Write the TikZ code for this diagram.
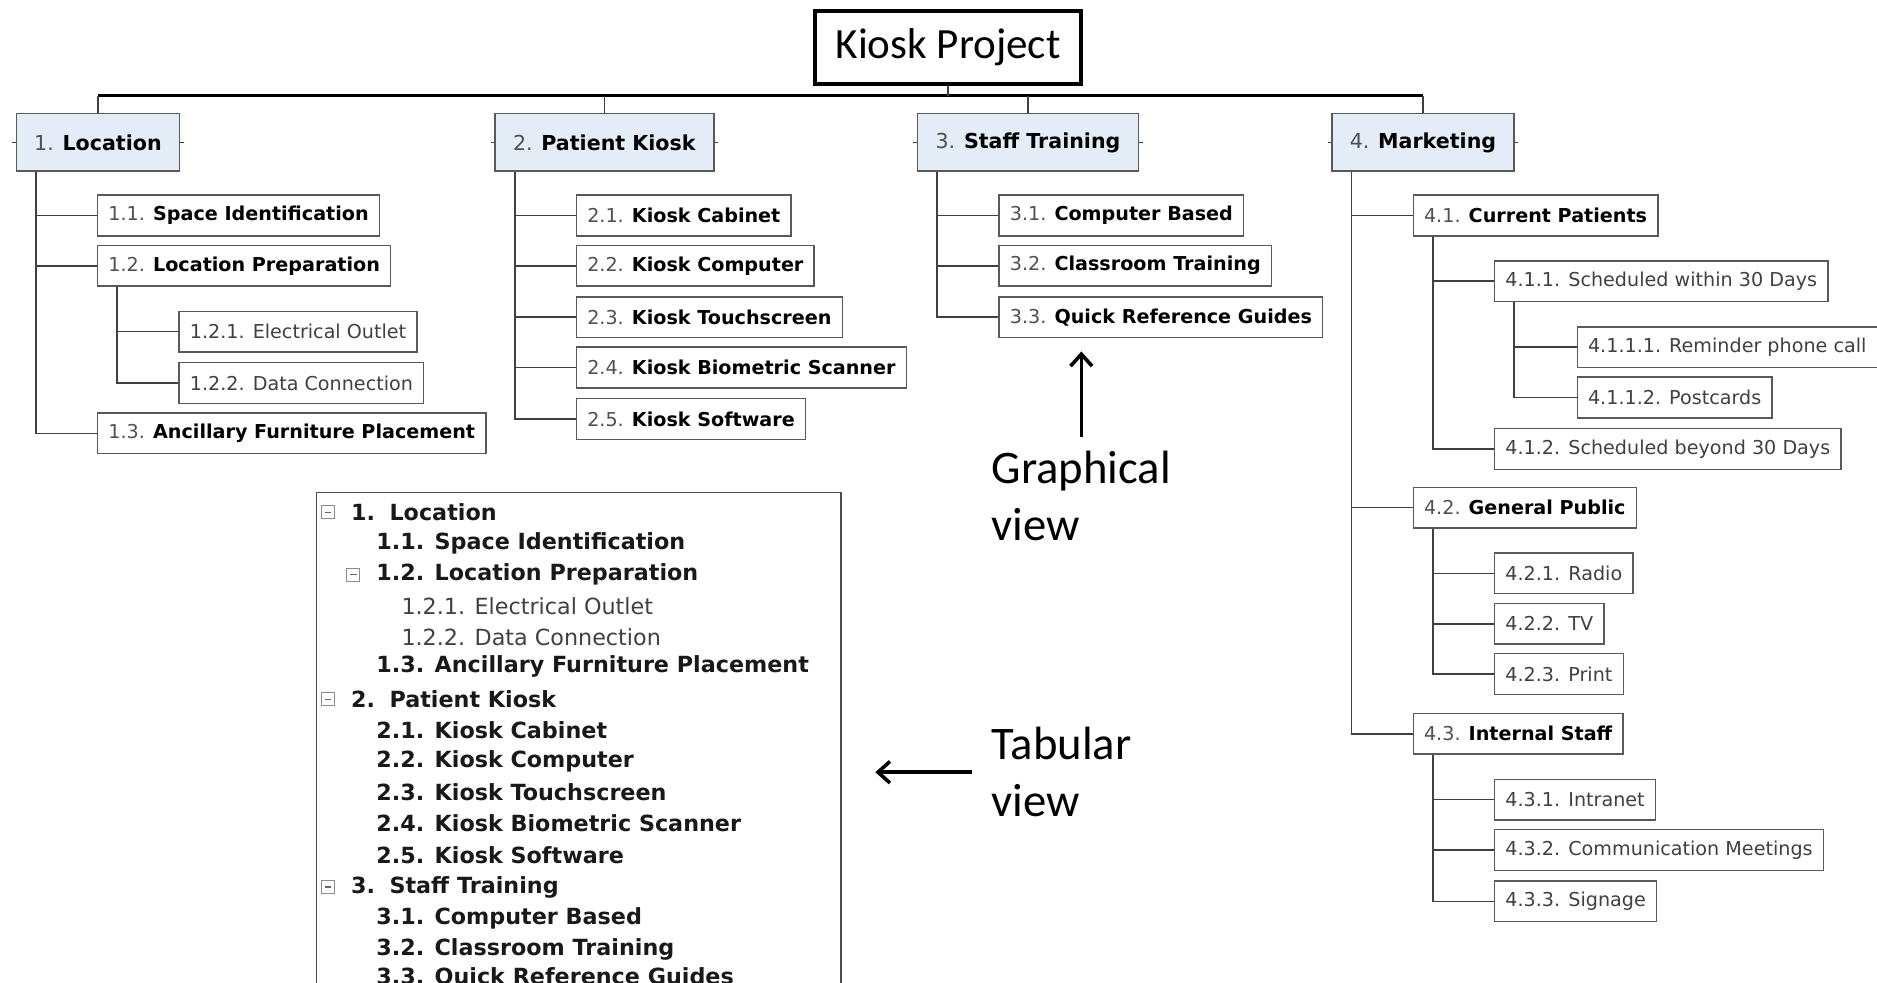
\documentclass[tikz,border=0pt]{standalone}
\usepackage{fontspec}
\setmainfont{DejaVu Sans}
\newfontfamily\calibri{Carlito}
\usetikzlibrary{arrows,arrows.meta,positioning}
\definecolor{wbsblue}{RGB}{228,236,248}
\definecolor{numgray}{RGB}{80,80,80}
\newcommand{\wbsnum}[1]{{\color{numgray}#1}}

\begin{document}
\begin{tikzpicture}[
  x=0.5pt, y=-0.5pt,
  >={Straight Barb[length=5pt,width=9pt]},
  wbsroot/.style={draw, line width=1.7pt, fill=white, minimum width=111pt, minimum height=30.5pt, font=\calibri\fontsize{18}{20}\selectfont},
  wbstop/.style={draw=black!65, line width=0.6pt, fill=wbsblue, anchor=west, minimum height=24pt, inner xsep=7.5pt, font=\fontsize{8.6}{10}\selectfont},
  wbsitem/.style={draw=black!65, line width=0.6pt, fill=white, anchor=west, minimum height=17pt, inner xsep=4.5pt, font=\fontsize{8}{10}\selectfont},
  wbsleaf/.style={wbsitem, text=black!75},
  wbsline/.style={draw=black!75, line width=0.7pt},
  busline/.style={draw=black, line width=1.3pt},
  callout/.style={align=left, anchor=north west, inner sep=0pt, font=\calibri\fontsize{19.5}{24}\selectfont},
  callarrow/.style={->, line width=1.5pt},
  tabframe/.style={draw=black!70, line width=0.6pt, anchor=north west, minimum width=219pt, minimum height=220pt, inner sep=0pt},
  tabrow/.style={anchor=west, inner sep=0pt, text=black!90, font=\fontsize{9.3}{11}\selectfont\bfseries},
  tabsub/.style={tabrow, text=black!75, font=\fontsize{9.3}{11}\selectfont},
  tabtoggle/.style={draw=black!45, minimum size=5.5pt, inner sep=0pt, path picture={\draw[black!60, line width=0.5pt] ([xshift=1.3pt]path picture bounding box.west) -- ([xshift=-1.3pt]path picture bounding box.east);}}
]
\useasboundingbox (0,0) rectangle (1568,821);
\clip (0,0) rectangle (1568,821);

% root and first level
\node[wbsroot] (root) at (792,39.5) {Kiosk Project};
\coordinate (bus) at (792,80);

\node[wbstop] (loc) at (13,119) {\wbsnum{1.} \textbf{Location}};
\node[wbstop] (kiosk) at (413,119) {\wbsnum{2.} \textbf{Patient Kiosk}};
\node[wbstop] (staff) at (766,119) {\wbsnum{3.} \textbf{Staff Training}};
\node[wbstop] (mkt) at (1112,119) {\wbsnum{4.} \textbf{Marketing}};

\draw[busline] (loc.north |- bus) -- (mkt.north |- bus);
\draw[wbsline] (root.south) -- (bus);
\foreach \n in {loc,kiosk,staff,mkt} {
  \draw[wbsline] (\n.north) -- (\n.north |- bus);
  \draw[wbsline] (\n.west) -- ++(-3,0) (\n.east) -- ++(3,0);
}

% 1. Location
\node[wbsitem] (l11) at (81,180) {\wbsnum{1.1.} \textbf{Space Identification}};
\node[wbsitem] (l12) at (81,222) {\wbsnum{1.2.} \textbf{Location Preparation}};
\node[wbsleaf] (l121) at (149,277) {1.2.1. Electrical Outlet};
\node[wbsleaf] (l122) at (149,320) {1.2.2. Data Connection};
\node[wbsitem] (l13) at (81,362) {\wbsnum{1.3.} \textbf{Ancillary Furniture Placement}};

% 2. Patient Kiosk
\node[wbsitem] (k21) at (481,180) {\wbsnum{2.1.} \textbf{Kiosk Cabinet}};
\node[wbsitem] (k22) at (481,222) {\wbsnum{2.2.} \textbf{Kiosk Computer}};
\node[wbsitem] (k23) at (481,265) {\wbsnum{2.3.} \textbf{Kiosk Touchscreen}};
\node[wbsitem] (k24) at (481,307) {\wbsnum{2.4.} \textbf{Kiosk Biometric Scanner}};
\node[wbsitem] (k25) at (481,350) {\wbsnum{2.5.} \textbf{Kiosk Software}};

% 3. Staff Training
\node[wbsitem] (s31) at (834,180) {\wbsnum{3.1.} \textbf{Computer Based}};
\node[wbsitem] (s32) at (834,222) {\wbsnum{3.2.} \textbf{Classroom Training}};
\node[wbsitem] (s33) at (834,265) {\wbsnum{3.3.} \textbf{Quick Reference Guides}};

% 4. Marketing
\node[wbsitem] (m41) at (1180,180) {\wbsnum{4.1.} \textbf{Current Patients}};
\node[wbsleaf] (m411) at (1248,235) {4.1.1. Scheduled within 30 Days};
\node[wbsleaf] (m4111) at (1317,290) {4.1.1.1. Reminder phone call};
\node[wbsleaf] (m4112) at (1317,332) {4.1.1.2. Postcards};
\node[wbsleaf] (m412) at (1248,375) {4.1.2. Scheduled beyond 30 Days};
\node[wbsitem] (m42) at (1180,424) {\wbsnum{4.2.} \textbf{General Public}};
\node[wbsleaf] (m421) at (1248,479) {4.2.1. Radio};
\node[wbsleaf] (m422) at (1248,521) {4.2.2. TV};
\node[wbsleaf] (m423) at (1248,563) {4.2.3. Print};
\node[wbsitem] (m43) at (1180,613) {\wbsnum{4.3.} \textbf{Internal Staff}};
\node[wbsleaf] (m431) at (1248,668) {4.3.1. Intranet};
\node[wbsleaf] (m432) at (1248,710) {4.3.2. Communication Meetings};
\node[wbsleaf] (m433) at (1248,753) {4.3.3. Signage};

% tree lines
\foreach \p/\c in {loc/l11, loc/l12, loc/l13, l12/l121, l12/l122,
  kiosk/k21, kiosk/k22, kiosk/k23, kiosk/k24, kiosk/k25,
  staff/s31, staff/s32, staff/s33,
  mkt/m41, mkt/m42, mkt/m43, m41/m411, m41/m412, m411/m4111, m411/m4112,
  m42/m421, m42/m422, m42/m423, m43/m431, m43/m432, m43/m433}
  \draw[wbsline] ([xshift=8.5pt]\p.south west) |- (\c.west);

% tabular view
\node[tabframe] (tabbox) at (264,411) {};
\node[tabtoggle] (g1) at (274,428) {};
\node[tabrow] (t1) at (293,428) {1.\hspace{6pt}Location};
\node[tabrow] (t11) at (314,454) {1.1. Space Identification};
\node[tabtoggle] (g12) at (295,480) {};
\node[tabrow] (t12) at (314,480) {1.2. Location Preparation};
\node[tabsub] (t121) at (335,506) {1.2.1. Electrical Outlet};
\node[tabsub] (t122) at (335,532) {1.2.2. Data Connection};
\node[tabrow] (t13) at (314,557) {1.3. Ancillary Furniture Placement};
\node[tabtoggle] (g2) at (274,584) {};
\node[tabrow] (t2) at (293,584) {2.\hspace{6pt}Patient Kiosk};
\node[tabrow] (t21) at (314,610) {2.1. Kiosk Cabinet};
\node[tabrow] (t22) at (314,636) {2.2. Kiosk Computer};
\node[tabrow] (t23) at (314,662) {2.3. Kiosk Touchscreen};
\node[tabrow] (t24) at (314,688) {2.4. Kiosk Biometric Scanner};
\node[tabrow] (t25) at (314,714) {2.5. Kiosk Software};
\node[tabtoggle] (g3) at (274,741) {};
\node[tabrow] (t3) at (293,741) {3.\hspace{6pt}Staff Training};
\node[tabrow] (t31) at (314,767) {3.1. Computer Based};
\node[tabrow] (t32) at (314,793) {3.2. Classroom Training};
\node[tabrow] (t33) at (314,817) {3.3. Quick Reference Guides};

% callouts
\node[callout] (gview) at (828,376) {Graphical\\view};
\node[callout] (tview) at (828,607) {Tabular\\view};
\draw[callarrow, shorten <=5.5pt, shorten >=5.5pt] (gview.north) -- (gview.north |- s33.south);
\draw[callarrow, shorten <=8pt, shorten >=14pt] (tview.west) -- (tview.west -| tabbox.east);

\end{tikzpicture}
\end{document}
